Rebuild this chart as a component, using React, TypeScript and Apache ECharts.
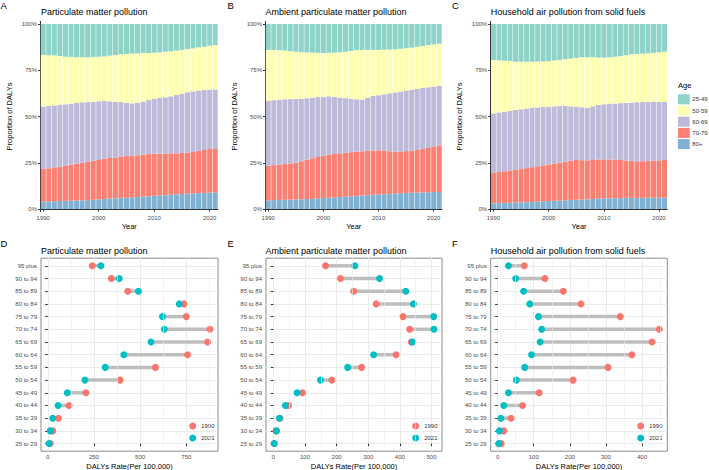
import React, { useEffect, useRef } from "react";
import * as echarts from "echarts";

const FONT = "'Liberation Sans', Arial, Helvetica, sans-serif";
const TICK_TEXT = "#4D4D4D";
const TICK_LINE = "#333333";
const GRID_LINE = "#EBEBEB";

// ---- Age composition of DALYs, 1990-2021 (shares in %) ----
const years = [
  "1990", "1991", "1992", "1993", "1994", "1995", "1996", "1997", "1998", "1999",
  "2000", "2001", "2002", "2003", "2004", "2005", "2006", "2007", "2008", "2009",
  "2010", "2011", "2012", "2013", "2014", "2015", "2016", "2017", "2018", "2019",
  "2020", "2021",
];
const ageGroups = ["25-49", "50-59", "60-69", "70-79", "80+"];
const ageColors: Record<string, string> = {
  "25-49": "#8DD3C7",
  "50-59": "#FFFFB3",
  "60-69": "#BEBADA",
  "70-79": "#FB8072",
  "80+": "#80B1D3",
};
const pctTicks = [0, 25, 50, 75, 100];

// Particulate matter pollution
const pm80plus = [4.0, 4.1, 4.2, 4.3, 4.4, 4.5, 4.6, 4.7, 4.8, 5.0, 5.2, 5.4, 5.6, 5.8, 6.0, 6.1, 6.3, 6.5, 6.7, 6.9, 7.1, 7.3, 7.5, 7.7, 7.9, 8.1, 8.3, 8.4, 8.6, 8.7, 8.9, 9.0];
const pm70to79 = [17.8, 17.9, 18.3, 18.6, 19.0, 19.5, 19.9, 20.3, 20.8, 21.1, 21.3, 21.8, 22.0, 22.1, 22.3, 22.5, 22.5, 22.5, 22.7, 22.8, 22.8, 22.6, 22.4, 22.4, 22.2, 22.2, 22.2, 22.4, 22.8, 23.2, 23.5, 23.8];
const pm60to69 = [33.5, 33.7, 33.5, 33.5, 33.2, 32.9, 32.8, 32.7, 32.2, 31.9, 31.7, 31.2, 30.6, 30.1, 29.5, 28.9, 28.3, 28.3, 28.6, 29.2, 29.6, 30.1, 30.5, 30.8, 31.5, 32.0, 32.6, 32.8, 32.6, 32.4, 32.1, 31.9];
const pm50to59 = [27.9, 27.4, 27.1, 26.3, 25.7, 25.3, 24.7, 24.3, 24.2, 24.2, 24.1, 24.1, 24.7, 25.2, 25.8, 26.3, 26.9, 26.8, 26.3, 25.4, 25.0, 24.7, 24.6, 24.3, 24.0, 23.6, 23.4, 23.2, 23.4, 23.4, 23.8, 23.9];
const pm25to49 = [16.8, 16.9, 16.9, 17.3, 17.7, 17.8, 18.0, 18.0, 18.0, 17.8, 17.7, 17.5, 17.1, 16.8, 16.4, 16.2, 16.0, 15.9, 15.7, 15.7, 15.5, 15.3, 15.0, 14.8, 14.4, 14.1, 13.5, 13.2, 12.6, 12.3, 11.7, 11.4];

// Ambient particulate matter pollution
const ap80plus = [4.7, 4.8, 4.9, 5.0, 5.1, 5.2, 5.3, 5.4, 5.5, 5.7, 5.9, 6.1, 6.3, 6.5, 6.7, 6.9, 7.1, 7.3, 7.5, 7.7, 7.9, 8.0, 8.2, 8.4, 8.5, 8.7, 8.8, 8.9, 9.0, 9.1, 9.2, 9.2];
const ap70to79 = [18.7, 18.9, 19.1, 19.3, 19.5, 19.8, 20.5, 21.2, 21.9, 22.4, 22.9, 23.2, 23.4, 23.6, 23.7, 23.8, 23.9, 23.9, 23.9, 23.9, 23.8, 23.5, 23.0, 22.6, 22.6, 22.6, 22.7, 23.0, 23.4, 23.9, 24.5, 25.2];
const ap60to69 = [35.2, 35.1, 35.0, 35.0, 34.8, 34.5, 33.8, 33.3, 32.8, 32.4, 31.9, 31.6, 30.9, 30.1, 29.5, 28.9, 28.3, 27.9, 28.6, 29.5, 29.8, 30.5, 31.3, 32.0, 32.4, 32.7, 33.0, 33.1, 33.0, 32.8, 32.5, 32.1];
const ap50to59 = [27.4, 27.2, 26.8, 26.3, 25.9, 25.5, 25.2, 24.7, 24.3, 23.9, 23.6, 23.5, 23.9, 24.5, 25.1, 25.8, 26.6, 26.8, 26.0, 24.9, 24.5, 24.1, 23.7, 23.3, 23.1, 22.9, 22.7, 22.7, 22.7, 22.8, 22.8, 22.9];
const ap25to49 = [14.0, 14.0, 14.2, 14.4, 14.7, 15.0, 15.2, 15.4, 15.5, 15.6, 15.7, 15.6, 15.5, 15.3, 15.0, 14.6, 14.1, 14.1, 14.0, 14.0, 14.0, 13.9, 13.8, 13.7, 13.4, 13.1, 12.8, 12.3, 11.9, 11.4, 11.0, 10.6];

// Household air pollution from solid fuels
const hap80plus = [3.1, 3.2, 3.3, 3.4, 3.5, 3.6, 3.7, 3.8, 4.0, 4.1, 4.3, 4.4, 4.6, 4.7, 4.9, 5.0, 5.1, 5.2, 5.4, 5.6, 5.8, 5.8, 5.9, 5.9, 6.0, 6.0, 6.0, 6.0, 6.1, 6.1, 6.1, 6.1];
const hap70to79 = [16.7, 16.9, 17.1, 17.4, 17.7, 18.0, 18.4, 18.8, 19.1, 19.5, 19.8, 20.2, 20.5, 20.9, 21.2, 21.5, 21.3, 21.1, 21.1, 21.1, 21.0, 21.0, 20.8, 20.6, 20.2, 20.0, 19.8, 19.8, 19.8, 20.0, 20.2, 20.4];
const hap60to69 = [31.9, 32.1, 32.2, 32.2, 32.3, 32.3, 32.2, 32.1, 31.8, 31.5, 31.2, 30.9, 30.5, 30.1, 29.4, 28.8, 28.6, 28.3, 29.0, 29.5, 29.8, 30.1, 30.3, 30.7, 31.2, 31.5, 31.9, 32.1, 32.1, 31.8, 31.5, 31.3];
const hap50to59 = [28.8, 28.2, 27.6, 27.0, 26.1, 25.7, 25.3, 24.9, 24.8, 24.7, 24.7, 24.8, 25.0, 25.2, 25.8, 26.4, 27.0, 27.4, 26.5, 25.6, 25.2, 25.1, 25.3, 25.4, 25.7, 26.1, 26.1, 26.1, 26.1, 26.5, 26.9, 27.2];
const hap25to49 = [19.5, 19.6, 19.8, 20.0, 20.4, 20.4, 20.4, 20.4, 20.3, 20.2, 20.0, 19.7, 19.4, 19.1, 18.7, 18.3, 18.0, 18.0, 18.0, 18.2, 18.2, 18.0, 17.7, 17.4, 16.9, 16.4, 16.2, 16.0, 15.9, 15.6, 15.3, 15.0];

// ---- DALYs rate per 100,000 by five-year age band, 1990 vs 2021 ----
const rateAgeBands = [
  "25 to 29", "30 to 34", "35 to 39", "40 to 44", "45 to 49", "50 to 54",
  "55 to 59", "60 to 64", "65 to 69", "70 to 74", "75 to 79", "80 to 84",
  "85 to 89", "90 to 94", "95 plus",
];
const pmRate1990 = [14, 27, 58, 115, 207, 392, 583, 757, 865, 878, 750, 737, 433, 344, 241];
const pmRate2021 = [7, 14, 27, 56, 106, 201, 311, 412, 559, 631, 621, 712, 491, 387, 288];
const apRate1990 = [2, 8, 21, 48, 92, 185, 279, 388, 436, 431, 410, 325, 254, 212, 165];
const apRate2021 = [3, 10, 19, 38, 75, 149, 235, 317, 440, 508, 507, 443, 419, 336, 258];
const hapRate1990 = [10, 17, 37, 69, 115, 209, 306, 372, 428, 448, 340, 231, 182, 131, 74];
const hapRate2021 = [3, 5, 9, 17, 30, 52, 75, 94, 118, 122, 113, 89, 72, 50, 30];

const pmRateTicks = [0, 250, 500, 750];
const pmRateMinor = [125, 375, 625, 875];
const apRateTicks = [0, 100, 200, 300, 400, 500];
const apRateMinor = [50, 150, 250, 350, 450];
const hapRateTicks = [0, 100, 200, 300, 400];
const hapRateMinor = [50, 150, 250, 350, 450];

// ---- panel layout ----
const topPanels = [
  { letter: "A", title: "Particulate matter pollution", left: 40.5, right: 218, letterX: 0.5, titleX: 41,
    shares: [pm80plus, pm70to79, pm60to69, pm50to59, pm25to49] },
  { letter: "B", title: "Ambient particulate matter pollution", left: 265.5, right: 442, letterX: 227.5, titleX: 265.5,
    shares: [ap80plus, ap70to79, ap60to69, ap50to59, ap25to49] },
  { letter: "C", title: "Household air pollution from solid fuels", left: 490.7, right: 667.3, letterX: 452, titleX: 490.7,
    shares: [hap80plus, hap70to79, hap60to69, hap50to59, hap25to49] },
];
const stackOrder = ["80+", "70-79", "60-69", "50-59", "25-49"];

const bottomPanels = [
  { letter: "D", title: "Particulate matter pollution", left: 41, right: 218, letterX: 0.5, titleX: 41,
    r1990: pmRate1990, r2021: pmRate2021, ticks: pmRateTicks, minor: pmRateMinor, legendLeft: 189.2 },
  { letter: "E", title: "Ambient particulate matter pollution", left: 266, right: 442, letterX: 227.5, titleX: 265.5,
    r1990: apRate1990, r2021: apRate2021, ticks: apRateTicks, minor: apRateMinor, legendLeft: 412.2 },
  { letter: "F", title: "Household air pollution from solid fuels", left: 490.7, right: 667.3, letterX: 452, titleX: 490.7,
    r1990: hapRate1990, r2021: hapRate2021, ticks: hapRateTicks, minor: hapRateMinor, legendLeft: 637.2 },
];

const TOP_Y_MIN = -1.4;
const TOP_Y_MAX = 101.4;
const decadeOnly = (i: number) => Number(years[i]) % 10 === 0;

function buildOption() {
  const grid: any[] = [];
  const xAxis: any[] = [];
  const yAxis: any[] = [];
  const series: any[] = [];
  const graphic: any[] = [];

  const textEl = (text: string, x: number, y: number, size: number, fill = "#000") => ({
    type: "text",
    x,
    y,
    silent: true,
    style: { text, fontSize: size, fontFamily: FONT, fill, verticalAlign: "middle", align: "left" },
  });

  const axisName = { fontSize: 7.5, color: "#000", fontFamily: FONT };

  topPanels.forEach((p, k) => {
    grid.push({ left: p.left, top: 21.4, width: p.right - p.left, height: 190.2, outerBoundsMode: "none" });
    xAxis.push({
      type: "category",
      gridIndex: k,
      data: years,
      boundaryGap: true,
      name: "Year",
      nameLocation: "middle",
      nameGap: 11,
      nameMoveOverlap: false,
      nameTextStyle: axisName,
      axisLine: { show: true, lineStyle: { color: TICK_LINE, width: 1 } },
      axisTick: { show: true, alignWithLabel: true, interval: decadeOnly, length: 2.5, lineStyle: { color: TICK_LINE } },
      axisLabel: { interval: decadeOnly, fontSize: 6, color: TICK_TEXT, margin: 3, fontFamily: FONT },
      splitLine: { show: false },
    });
    yAxis.push({
      type: "value",
      gridIndex: k,
      min: TOP_Y_MIN,
      max: TOP_Y_MAX,
      name: "Proportion of DALYs",
      nameLocation: "middle",
      nameGap: 27,
      nameMoveOverlap: false,
      nameTextStyle: axisName,
      axisLine: { show: true, lineStyle: { color: TICK_LINE, width: 1 } },
      axisTick: { show: true, length: 2.5, lineStyle: { color: TICK_LINE }, customValues: pctTicks },
      axisLabel: { fontSize: 6, color: TICK_TEXT, margin: 3.5, fontFamily: FONT, customValues: pctTicks, formatter: (v: number) => `${v}%` },
      splitLine: { show: false },
    });
    stackOrder.forEach((age, g) => {
      series.push({
        type: "bar",
        name: age,
        stack: `share${k}`,
        xAxisIndex: k,
        yAxisIndex: k,
        data: p.shares[g],
        barCategoryGap: "10%",
        itemStyle: { color: ageColors[age] },
        emphasis: { disabled: true },
      });
    });
    graphic.push(textEl(p.letter, p.letterX, 5, 9.5));
    graphic.push(textEl(p.title, p.titleX, 12, 9));
  });

  bottomPanels.forEach((p, j) => {
    const k = j + 3;
    const all = [...p.r1990, ...p.r2021];
    const lo = Math.min(...all);
    const hi = Math.max(...all);
    const pad = (hi - lo) * 0.05;
    const bandIdx = rateAgeBands.map((_, i) => i);

    grid.push({
      left: p.left, top: 258.2, width: p.right - p.left, height: 193,
      show: true, borderColor: "#8A8A8A", borderWidth: 1, backgroundColor: "#FFFFFF",
      outerBoundsMode: "none",
    });
    xAxis.push({
      type: "value",
      gridIndex: k,
      min: lo - pad,
      max: hi + pad,
      name: "DALYs Rate(Per 100,000)",
      nameLocation: "middle",
      nameGap: 11,
      nameMoveOverlap: false,
      nameTextStyle: axisName,
      axisLine: { show: false },
      axisTick: { show: true, length: 2.5, lineStyle: { color: TICK_LINE }, customValues: p.ticks },
      axisLabel: { fontSize: 6, color: TICK_TEXT, margin: 3, fontFamily: FONT, customValues: p.ticks },
      splitLine: { show: true, lineStyle: { color: GRID_LINE, width: 1 } },
    });
    yAxis.push({
      type: "value",
      gridIndex: k,
      min: -0.6,
      max: rateAgeBands.length - 1 + 0.6,
      axisLine: { show: false },
      axisTick: { show: true, length: 2.5, lineStyle: { color: TICK_LINE }, customValues: bandIdx },
      axisLabel: {
        fontSize: 6, color: TICK_TEXT, margin: 4, fontFamily: FONT, customValues: bandIdx,
        formatter: (v: number) => rateAgeBands[Math.round(v)] ?? "",
      },
      splitLine: { show: true, lineStyle: { color: GRID_LINE, width: 1 } },
    });

    // minor vertical grid lines
    series.push({
      type: "line",
      xAxisIndex: k,
      yAxisIndex: k,
      data: [],
      silent: true,
      z: 1,
      markLine: {
        silent: true,
        symbol: ["none", "none"],
        label: { show: false },
        lineStyle: { color: GRID_LINE, width: 0.6, type: "solid" },
        emphasis: { disabled: true },
        data: p.minor.map((v) => ({ xAxis: v })),
      },
    });
    // connecting segments
    series.push({
      type: "custom",
      xAxisIndex: k,
      yAxisIndex: k,
      silent: true,
      z: 2,
      data: p.r1990.map((v, i) => [v, p.r2021[i], i]),
      encode: { x: [0, 1], y: 2 },
      renderItem: (_params: any, api: any) => {
        const yv = api.value(2);
        const a = api.coord([api.value(0), yv]);
        const b = api.coord([api.value(1), yv]);
        return {
          type: "line",
          shape: { x1: a[0], y1: a[1], x2: b[0], y2: b[1] },
          style: { stroke: "#BEBEBE", lineWidth: 3.5 },
        };
      },
    });
    series.push({
      type: "scatter",
      name: "1990",
      xAxisIndex: k,
      yAxisIndex: k,
      data: p.r1990.map((v, i) => [v, i]),
      symbol: "circle",
      symbolSize: 7,
      itemStyle: { color: "#F8766D", opacity: 1 },
      z: 3,
      emphasis: { disabled: true },
    });
    series.push({
      type: "scatter",
      name: "2021",
      xAxisIndex: k,
      yAxisIndex: k,
      data: p.r2021.map((v, i) => [v, i]),
      symbol: "circle",
      symbolSize: 7,
      itemStyle: { color: "#00BFC4", opacity: 1 },
      z: 4,
      emphasis: { disabled: true },
    });
    graphic.push(textEl(p.letter, p.letterX, 243.3, 9.5));
    graphic.push(textEl(p.title, p.titleX, 250.5, 9));
  });

  // age legend of the stacked panels
  graphic.push(textEl("Age", 678, 85.5, 7.5));
  ageGroups.forEach((age, i) => {
    const y = 94.3 + i * 11.2;
    graphic.push({
      type: "rect",
      silent: true,
      shape: { x: 678, y, width: 11.7, height: 10 },
      style: { fill: ageColors[age] },
    });
    graphic.push(textEl(age, 692.3, y + 5, 6, "#333"));
  });

  const legend: any[] = bottomPanels.map((p) => ({
    data: ["1990", "2021"],
    orient: "vertical",
    left: p.legendLeft,
    top: 422.5,
    icon: "circle",
    itemWidth: 7,
    itemHeight: 7,
    itemGap: 5,
    padding: 0,
    selectedMode: false,
    textStyle: { fontSize: 6, color: "#333", fontFamily: FONT, lineHeight: 7 },
  }));

  return {
    animation: false,
    backgroundColor: "#FFFFFF",
    textStyle: { fontFamily: FONT },
    tooltip: { show: false },
    grid,
    xAxis,
    yAxis,
    legend,
    series,
    graphic,
  };
}

export default function App() {
  const ref = useRef<HTMLDivElement>(null);

  useEffect(() => {
    document.body.style.margin = "0";
    document.body.style.padding = "0";
    if (!ref.current) return;
    const chart = echarts.init(ref.current, undefined, { renderer: "svg" });
    chart.setOption(buildOption() as any);
    return () => chart.dispose();
  }, []);

  return (
    <div
      ref={ref}
      style={{ position: "relative", width: 709, height: 470, background: "#fff", overflow: "hidden" }}
    />
  );
}
